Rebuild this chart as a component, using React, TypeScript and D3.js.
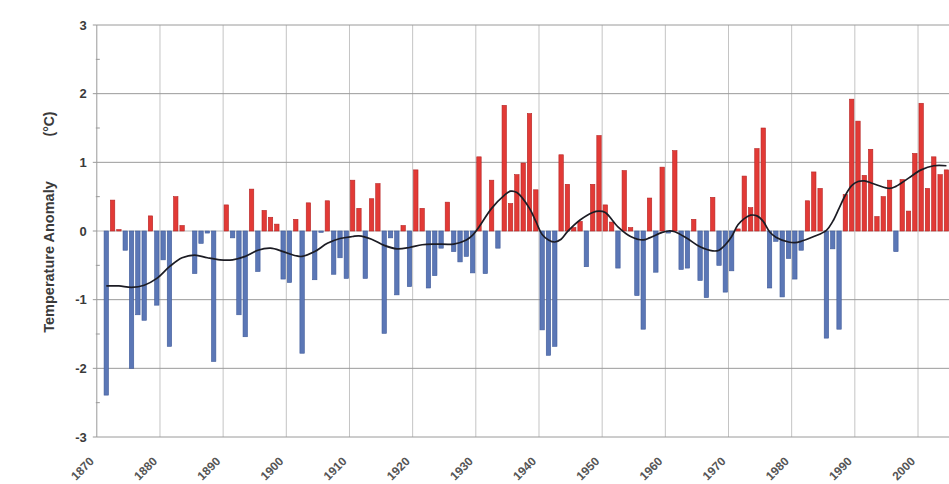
import React from "react";
import * as d3 from "d3";

// yearly anomaly bars, 1871..2004
const years = d3.range(1871, 2005);
const anomalies = [
  -2.39, 0.45, 0.02, -0.28, -2.0, -1.22, -1.3, 0.22, -1.08, -0.42,
  -1.68, 0.5, 0.08, 0.0, -0.62, -0.18, -0.03, -1.9, 0.0, 0.38,
  -0.1, -1.22, -1.54, 0.61, -0.59, 0.3, 0.2, 0.1, -0.7, -0.75,
  0.17, -1.78, 0.41, -0.71, -0.02, 0.44, -0.63, -0.39, -0.69, 0.74,
  0.33, -0.69, 0.47, 0.69, -1.49, -0.1, -0.93, 0.08, -0.81, 0.89,
  0.33, -0.83, -0.65, -0.25, 0.42, -0.3, -0.45, -0.37, -0.61, 1.08,
  -0.62, 0.74, -0.25, 1.83, 0.4, 0.82, 0.99, 1.71, 0.6, -1.44,
  -1.81, -1.68, 1.11, 0.68, 0.05, 0.14, -0.52, 0.68, 1.39, 0.38,
  0.13, -0.54, 0.88, 0.05, -0.94, -1.43, 0.48, -0.6, 0.93, -0.03,
  1.17, -0.56, -0.54, 0.17, -0.72, -0.97, 0.49, -0.5, -0.89, -0.58,
  0.03, 0.8, 0.34, 1.2, 1.5, -0.83, -0.15, -0.96, -0.4, -0.7,
  -0.28, 0.44, 0.86, 0.62, -1.56, -0.26, -1.43, 0.53, 1.92, 1.6,
  0.81, 1.19, 0.21, 0.5, 0.74, -0.3, 0.75, 0.29, 1.13, 1.86,
  0.62, 1.08, 0.82, 0.89,
];

// smoothed trend line
const trendYears = [
  1871, 1873, 1875, 1877, 1879, 1881, 1883, 1885, 1887, 1889, 1891, 1893, 1895,
  1897, 1899, 1901, 1902, 1904, 1906, 1908, 1910, 1911, 1913, 1915, 1917, 1919,
  1921, 1923, 1926, 1928, 1929, 1930, 1932, 1934, 1935, 1936, 1938, 1939, 1940,
  1941, 1942, 1943, 1944, 1946, 1948, 1949, 1950, 1952, 1954, 1956, 1957, 1959,
  1960, 1961, 1963, 1965, 1967, 1968, 1969, 1970, 1971, 1972, 1973, 1974, 1975,
  1976, 1977, 1979, 1980, 1981, 1983, 1985, 1986, 1987, 1988, 1989, 1990, 1991,
  1993, 1995, 1996, 1998, 2000, 2002, 2004,
];
const trendValues = [
  -0.8, -0.8, -0.82, -0.79, -0.69, -0.52, -0.39, -0.35, -0.39, -0.42, -0.42, -0.37, -0.28,
  -0.25, -0.3, -0.36, -0.37, -0.3, -0.18, -0.11, -0.08, -0.07, -0.12, -0.21, -0.26, -0.24,
  -0.2, -0.19, -0.19, -0.13, -0.06, 0.06, 0.33, 0.52, 0.58, 0.56, 0.33, 0.14, -0.05,
  -0.13, -0.16, -0.12, -0.01, 0.16, 0.27, 0.29, 0.27, 0.06, -0.08, -0.13, -0.1, -0.02,
  0.0, -0.01, -0.11, -0.23, -0.29, -0.28, -0.2, -0.08, 0.09, 0.18, 0.23, 0.22, 0.14,
  -0.01, -0.09, -0.16, -0.17, -0.15, -0.08, 0.01, 0.14, 0.33, 0.52, 0.66, 0.72, 0.73,
  0.67, 0.62, 0.65, 0.77, 0.89, 0.95, 0.95,
];

const yTicks = [-3, -2, -1, 0, 1, 2, 3];
const yMinorTicks = [-2.5, -1.5, -0.5, 0.5, 1.5, 2.5];
const decadeTicks = d3.range(1870, 2010, 10);

const width = 949;
const height = 484;
const font = "'Liberation Sans', Arial, sans-serif";

export default function App() {
  const x = d3.scaleLinear().domain([1870, 2005]).range([96.8, 96.8 + 135 * 6.317]);
  const y = d3.scaleLinear().domain([-3, 3]).range([437, 25]);
  const left = x(1870);
  const barW = 4.4;

  const line = d3
    .line<number>()
    .x((_, i) => x(trendYears[i] + 0.5))
    .y((d) => y(d))
    .curve(d3.curveCatmullRom.alpha(0.5));

  return (
    <svg
      width={width}
      height={height}
      style={{ position: "absolute", left: 0, top: 0, background: "#fff" }}
      fontFamily={font}
    >
      {/* vertical grid */}
      {decadeTicks.slice(1).map((t) => (
        <line key={"v" + t} x1={x(t)} x2={x(t)} y1={y(3)} y2={y(-3)} stroke="#c4c4c4" strokeWidth={1} />
      ))}
      {/* horizontal grid */}
      {yTicks.map((t) => (
        <line key={"h" + t} x1={left} x2={width} y1={y(t)} y2={y(t)} stroke={t === 0 ? "#b8b8b8" : "#9a9a9a"} strokeWidth={1} />
      ))}

      {/* bars */}
      {anomalies.map((v, i) => {
        const cx = x(years[i] + 0.5);
        const y0 = y(0);
        const y1 = y(v);
        const pos = v >= 0;
        return (
          <rect
            key={years[i]}
            x={cx - barW / 2}
            y={Math.min(y0, y1)}
            width={barW}
            height={Math.abs(y1 - y0)}
            fill={pos ? "#e23a36" : "#5b77b6"}
            stroke={pos ? "#b52424" : "#3f5a99"}
            strokeWidth={0.6}
          />
        );
      })}

      {/* trend */}
      <path d={line(trendValues) ?? ""} fill="none" stroke="#1c1c24" strokeWidth={1.7} />

      {/* y axis */}
      <line x1={left} x2={left} y1={y(3)} y2={y(-3)} stroke="#999" strokeWidth={1} />
      {yTicks.map((t) => (
        <g key={"yt" + t}>
          <line x1={left - 4} x2={left} y1={y(t)} y2={y(t)} stroke="#999" />
          <text x={left - 10} y={y(t)} dy="0.36em" textAnchor="end" fontSize={13} fontWeight="bold" fill="#3a3a3a">
            {t}
          </text>
        </g>
      ))}
      {yMinorTicks.map((t) => (
        <line key={"ym" + t} x1={left - 1} x2={left + 3} y1={y(t)} y2={y(t)} stroke="#999" />
      ))}

      {/* x labels */}
      {decadeTicks.map((t) => (
        <text
          key={"xl" + t}
          transform={`translate(${x(t) - 2},${y(-3) + 25}) rotate(-45)`}
          textAnchor="end"
          fontSize={12}
          fontWeight="bold"
          fill="#555"
        >
          {t}
        </text>
      ))}

      {/* y title */}
      <text transform={`translate(54,${257}) rotate(-90)`} textAnchor="middle" fontSize={14.5} fontWeight="bold" fill="#3a3a3a">
        Temperature Anomaly
      </text>
      <text transform={`translate(54,${124}) rotate(-90)`} textAnchor="middle" fontSize={14} fontWeight="bold" fill="#3a3a3a">
        (°C)
      </text>
    </svg>
  );
}
